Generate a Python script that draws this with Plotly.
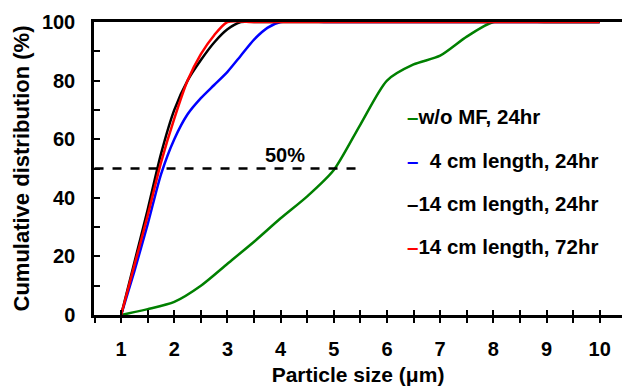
import plotly.graph_objects as go

# Data
x_green = [1, 1.5, 2, 2.5, 3, 3.5, 4, 4.5, 5, 5.5, 6, 6.5, 7, 7.5, 8, 9, 10]
y_green = [0, 2, 4.5, 10, 17.5, 25, 33, 40.5, 49.5, 65, 80, 85.5, 88.5, 95, 100, 100, 100]

x_blue = [1, 1.25, 1.5, 1.75, 2, 2.25, 2.5, 2.75, 3, 3.25, 3.5, 3.75, 4, 5, 6, 7, 8, 9, 10]
y_blue = [0, 15, 31, 48, 60, 68.5, 74, 78.5, 83, 88.5, 94, 98, 100, 100, 100, 100, 100, 100, 100]

x_black = [1, 1.25, 1.5, 1.75, 2, 2.25, 2.5, 2.75, 3, 3.25, 3.5, 4, 5, 6, 7, 8, 9, 10]
y_black = [0, 18, 36, 55, 70, 80, 87, 93, 97.5, 100, 100, 100, 100, 100, 100, 100, 100, 100]

x_red = [1, 1.25, 1.5, 1.75, 2, 2.25, 2.5, 2.75, 3, 3.5, 4, 5, 6, 7, 8, 9, 10]
y_red = [0, 17, 34, 52, 67, 80, 89, 95.5, 100, 100, 100, 100, 100, 100, 100, 100, 100]

series_names = ["w/o MF, 24hr", "4 cm length, 24hr", "14 cm length, 24hr", "14 cm length, 72hr"]
series_colors = ["#008000", "#0000FF", "#000000", "#FF0000"]

ref_x = [0.5, 5.53]
ref_y = [50, 50]

FONT = "Liberation Sans, Arial, sans-serif"

fig = go.Figure()
for xs, ys, name, col in zip([x_green, x_blue, x_black, x_red],
                             [y_green, y_blue, y_black, y_red],
                             series_names, series_colors):
    fig.add_trace(go.Scatter(x=xs, y=ys, mode="lines", name=name,
                             line=dict(color=col, width=2.5, shape="spline", smoothing=0.7),
                             showlegend=False))

fig.add_trace(go.Scatter(x=ref_x, y=ref_y, mode="lines", showlegend=False,
                         line=dict(color="black", width=2.5, dash="dash")))

# dummy trace for the overlay axis (cross ticks)
fig.add_trace(go.Scatter(x=[1], y=[0], xaxis="x2", mode="markers", marker=dict(opacity=0),
                         showlegend=False, hoverinfo="skip"))

XR = [0.49, 10.42]
fig.update_layout(
    width=622, height=391,
    margin=dict(l=94, r=0, t=22, b=76),
    paper_bgcolor="white", plot_bgcolor="white",
    font=dict(family=FONT, size=20, color="black"),
    xaxis=dict(range=XR, tickmode="linear", tick0=1, dtick=1,
               showgrid=False, zeroline=False,
               showline=True, linecolor="black", linewidth=2.5, mirror=True,
               ticks="outside", ticklen=5, tickwidth=2, tickcolor="black",
               minor=dict(tickmode="linear", tick0=0.5, dtick=0.5, ticks="outside",
                          ticklen=5, tickwidth=2, tickcolor="black", showgrid=False),
               ticklabelstandoff=9,
               tickfont=dict(family=FONT, size=20, color="black", weight="bold"),
               title=dict(text="<b>Particle size (μm)</b>", standoff=9,
                          font=dict(family=FONT, size=21, color="black"))),
    xaxis2=dict(range=XR, overlaying="x", anchor="y", tickmode="linear", tick0=1, dtick=1,
                showticklabels=False, showgrid=False, zeroline=False, showline=False,
                ticks="inside", ticklen=5, tickwidth=2, tickcolor="black",
                minor=dict(tickmode="linear", tick0=0.5, dtick=0.5, ticks="inside",
                           ticklen=5, tickwidth=2, tickcolor="black", showgrid=False),
                side="bottom"),
    yaxis=dict(range=[0, 100], tickmode="linear", tick0=0, dtick=20,
               showgrid=False, zeroline=False,
               showline=True, linecolor="black", linewidth=2.5, mirror=False,
               ticks="inside", ticklen=6, tickwidth=2, tickcolor="black",
               minor=dict(tickmode="linear", tick0=0, dtick=10, ticks="inside",
                          ticklen=6, tickwidth=2, tickcolor="black", showgrid=False),
               ticklabelstandoff=12,
               tickfont=dict(family=FONT, size=20, color="black", weight="bold"),
               title=dict(text="<b>Cumulative distribution (%)</b>", standoff=7,
                          font=dict(family=FONT, size=22, color="black"))),
)

# "50%" label
fig.add_annotation(x=4.08, y=54.6, xref="x", yref="y", text="<b>50%</b>", showarrow=False,
                   font=dict(family=FONT, size=20, color="black"))

# Legend drawn as text with coloured dashes
legend_y = [67.9, 52.9, 38.2, 23.5]
legend_pad = ["", "&nbsp;&nbsp;", "", ""]
for name, col, yy, pad in zip(series_names, series_colors, legend_y, legend_pad):
    fig.add_annotation(x=6.34, y=yy, xref="x", yref="y", xanchor="left", showarrow=False,
                       text=f"<span style='color:{col}'><b>–</b></span>{pad}<b>{name}</b>",
                       font=dict(family=FONT, size=20.5, color="black"))

fig.write_html("out.html")
